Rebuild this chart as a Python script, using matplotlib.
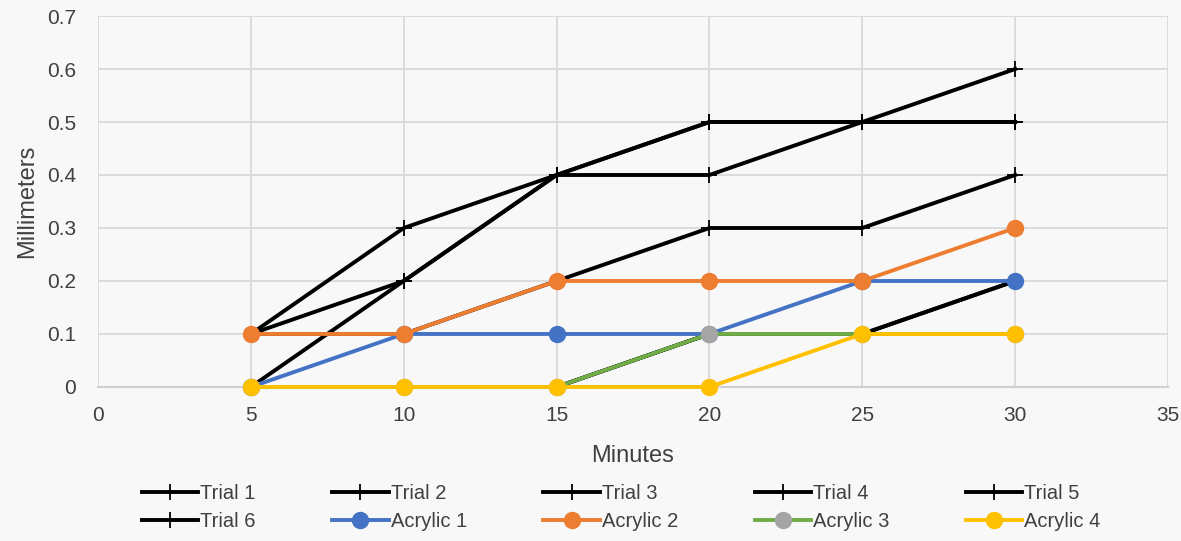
import matplotlib.pyplot as plt

minutes = [5, 10, 15, 20, 25, 30]

trial_names = ['Trial 1', 'Trial 2', 'Trial 3', 'Trial 4', 'Trial 5', 'Trial 6']
trials = [
    [0.1, 0.3, 0.4, 0.5, 0.5, 0.5],
    [0.0, 0.2, 0.4, 0.4, 0.5, 0.6],
    [0.1, 0.2, 0.4, 0.5, 0.5, 0.5],
    [0.1, 0.1, 0.2, 0.3, 0.3, 0.4],
    [0.0, 0.0, 0.0, 0.1, 0.1, 0.2],
    [0.0, 0.0, 0.0, 0.1, 0.1, 0.2],
]

acrylic_names = ['Acrylic 1', 'Acrylic 2', 'Acrylic 3', 'Acrylic 4']
acrylics = [
    [0.0, 0.1, 0.1, 0.1, 0.2, 0.2],
    [0.1, 0.1, 0.2, 0.2, 0.2, 0.3],
    [0.0, 0.0, 0.0, 0.1, 0.1, 0.1],
    [0.0, 0.0, 0.0, 0.0, 0.1, 0.1],
]
line_colors = ['#4472C4', '#ED7D31', '#70AD47', '#FFC000']
marker_colors = ['#4472C4', '#ED7D31', '#A5A5A5', '#FFC000']

plt.rcParams['font.family'] = ['Liberation Sans Narrow', 'Liberation Sans', 'DejaVu Sans']
bg = '#F8F8F8'
text_col = '#404040'

fig = plt.figure(figsize=(11.81, 5.41), dpi=100, facecolor=bg)
ax = fig.add_axes([0.083, 0.2847, 0.906, 0.6857], facecolor=bg)

for name, vals in zip(trial_names, trials):
    ax.plot(minutes, vals, color='black', lw=2.8, marker='+', markersize=11,
            markeredgewidth=1.3, label=name, clip_on=False, zorder=3)

for name, vals, lc, mc in zip(acrylic_names, acrylics, line_colors, marker_colors):
    ax.plot(minutes, vals, color=lc, lw=2.8, marker='o', markersize=11.5,
            markerfacecolor=mc, markeredgecolor=mc, label=name,
            clip_on=False, zorder=3)

ax.set_xlim(0, 35)
ax.set_ylim(0, 0.7)
ax.set_xticks(range(0, 36, 5))
ax.set_yticks([0, 0.1, 0.2, 0.3, 0.4, 0.5, 0.6, 0.7])
ax.set_yticklabels(['0', '0.1', '0.2', '0.3', '0.4', '0.5', '0.6', '0.7'])
ax.grid(True, color='#D9D9D9', lw=1.3)
ax.set_axisbelow(True)
for s in ['top', 'right', 'left']:
    ax.spines[s].set_visible(False)
ax.spines['bottom'].set_color('#D0D0D0')
ax.spines['bottom'].set_linewidth(1.5)
ax.spines['bottom'].set_zorder(1)
ax.tick_params(length=0, labelsize=15, colors=text_col)
ax.tick_params(axis='x', pad=14)
ax.tick_params(axis='y', pad=16)

ax.set_xlabel('Minutes', fontsize=17, color=text_col, labelpad=14)
ax.set_ylabel('Millimeters', fontsize=17, color=text_col, labelpad=6)

# legend fills column by column, so interleave to get rows of five
handles, labels = ax.get_legend_handles_labels()
order = [0, 5, 1, 6, 2, 7, 3, 8, 4, 9]
fig.legend([handles[i] for i in order], [labels[i] for i in order],
           loc='center', bbox_to_anchor=(0.526, 0.062), ncol=5, frameon=False,
           fontsize=14.5, labelcolor=text_col, handlelength=2.8, handletextpad=0.1,
           columnspacing=3.8, labelspacing=0.45)

fig.savefig('out.png', dpi=100, facecolor=bg)
